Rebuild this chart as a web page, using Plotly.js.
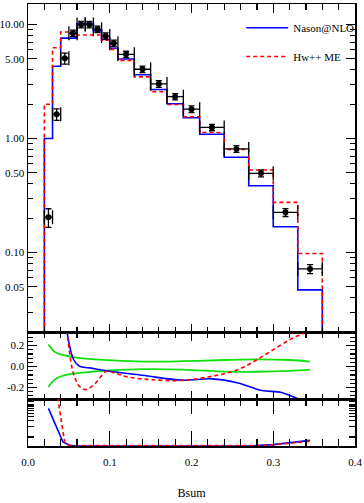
<!DOCTYPE html>
<html>
<head>
<meta charset="utf-8">
<script src="https://cdn.plot.ly/plotly-3.0.1.min.js"></script>
<style>
  html, body { margin: 0; padding: 0; background: #fff; }
  #chart { width: 364px; height: 503px; }
</style>
</head>
<body>
<div id="chart"></div>
<script>
// ---------------------------------------------------------------------------
// Bsum distribution: data vs Nason@NLO and Hw++ ME, plus two ratio strips.
// Data and both predictions share the same bins.
// ---------------------------------------------------------------------------

const binEdges = [0.02, 0.03, 0.04, 0.05, 0.06, 0.07, 0.08, 0.09, 0.10, 0.11,
  0.13, 0.15, 0.17, 0.19, 0.21, 0.24, 0.27, 0.30, 0.33, 0.36];

const dataValues = [0.204, 1.63, 5.05, 8.37, 10.0, 10.0, 9.08, 7.93, 6.84,
  5.48, 4.05, 3.01, 2.33, 1.81, 1.25, 0.81, 0.495, 0.225, 0.0717];
const dataErrors = [0.038, 0.19, 0.55, 0.55, 0.65, 0.65, 0.6, 0.5, 0.45,
  0.35, 0.27, 0.2, 0.15, 0.12, 0.08, 0.055, 0.035, 0.018, 0.0065];

const nasonValues = [1.0, 4.3, 7.6, 7.6, 10.2, 10.2, 8.8, 7.4, 6.2,
  4.98, 3.62, 2.69, 2.02, 1.52, 1.09, 0.684, 0.385, 0.168, 0.047];
const hwmeValues = [2.0, 6.25, 8.6, 8.6, 8.1, 8.1, 8.1, 7.3, 6.05,
  4.85, 3.47, 2.58, 1.99, 1.55, 1.13, 0.80, 0.53, 0.275, 0.098];

// upper ratio strip: (MC - data) / data and the data uncertainty band
const bandX = [0.025, 0.0325, 0.04, 0.053, 0.07, 0.10, 0.14, 0.19, 0.24, 0.28, 0.32, 0.345];
const bandUpper = [0.21, 0.14, 0.115, 0.093, 0.075, 0.06, 0.047, 0.051, 0.062, 0.068, 0.062, 0.046];
const bandLower = [-0.195, -0.125, -0.095, -0.07, -0.055, -0.038, -0.025, -0.029, -0.048, -0.05, -0.042, -0.03];

const nasonRatioX = [0.045, 0.0557, 0.063, 0.075, 0.10, 0.14, 0.188, 0.225, 0.257, 0.286, 0.31, 0.33, 0.345];
const nasonRatio = [0.47, 0.067, 0.003, -0.013, -0.045, -0.083, -0.13, -0.118, -0.157, -0.228, -0.247, -0.308, -0.36];

const hwmeRatioX = [0.045, 0.0535, 0.058, 0.063, 0.0705, 0.0816, 0.096, 0.105, 0.122, 0.15, 0.188,
  0.229, 0.257, 0.282, 0.307, 0.325, 0.339, 0.35];
const hwmeRatio = [0.55, 0.0, -0.12, -0.19, -0.22, -0.166, -0.045, -0.06, -0.1, -0.125, -0.133,
  -0.087, -0.029, 0.074, 0.195, 0.276, 0.324, 0.37];

// lower strip (no scale printed)
const nasonLowX = [0.025, 0.0427, 0.051, 0.06, 0.10, 0.20, 0.27, 0.30, 0.345];
const nasonLow = [0.80, 0.086, 0.015, 0.0, 0.0, 0.0, 0.0, 0.03, 0.12];
const hwmeLowX = [0.035, 0.0448, 0.048, 0.052, 0.07, 0.20, 0.29, 0.345];
const hwmeLow = [1.18, 0.086, 0.03, 0.012, 0.01, 0.005, 0.01, 0.10];

const lowStripTicks = [0.19, 0.41, 0.55, 0.62, 0.69, 0.75, 0.80, 0.85, 0.89, 0.94];

// ---------------------------------------------------------------------------

const FONT = 'Liberation Serif, DejaVu Serif, serif';
const BLUE = '#0000ff';
const RED = '#ff0000';
const GREEN = '#10e010';
const FLOOR = 1e-3; // below the log range, so the steps rise from the frame

// step outline: rise from the floor at the first edge, fall at the last
function stepTrace(values, name, line, legend) {
  return {
    x: [binEdges[0]].concat(binEdges),
    y: [FLOOR].concat(values, [FLOOR]),
    type: 'scatter',
    mode: 'lines',
    line: Object.assign({ shape: 'hv' }, line),
    name,
    legend,
    xaxis: 'x',
    yaxis: 'y',
  };
}

const centers = dataValues.map((_, i) => (binEdges[i] + binEdges[i + 1]) / 2);
const halfWidths = dataValues.map((_, i) => (binEdges[i + 1] - binEdges[i]) / 2);

const blueLine = { color: BLUE, width: 1.6 };
const redLine = { color: RED, width: 1.6, dash: '4px,3px' };

const traces = [
  stepTrace(nasonValues, 'Nason@NLO', blueLine, 'legend'),
  stepTrace(hwmeValues, 'Hw++ ME', redLine, 'legend2'),
  {
    x: centers,
    y: dataValues,
    type: 'scatter',
    mode: 'markers',
    marker: { color: '#000', size: 6, symbol: 'circle' },
    error_y: { type: 'data', array: dataErrors, color: '#000', thickness: 1.3, width: 3 },
    error_x: { type: 'data', array: halfWidths, color: '#000', thickness: 1.3, width: 7 },
    showlegend: false,
    xaxis: 'x',
    yaxis: 'y',
  },
  // upper ratio strip
  { x: bandX, y: bandUpper, mode: 'lines', line: { color: GREEN, width: 1.8, shape: 'spline' },
    showlegend: false, xaxis: 'x2', yaxis: 'y2' },
  { x: bandX, y: bandLower, mode: 'lines', line: { color: GREEN, width: 1.8, shape: 'spline' },
    showlegend: false, xaxis: 'x2', yaxis: 'y2' },
  { x: nasonRatioX, y: nasonRatio, mode: 'lines', line: Object.assign({ shape: 'spline' }, blueLine),
    showlegend: false, xaxis: 'x2', yaxis: 'y2' },
  { x: hwmeRatioX, y: hwmeRatio, mode: 'lines', line: Object.assign({ shape: 'spline' }, redLine),
    showlegend: false, xaxis: 'x2', yaxis: 'y2' },
  // lower strip
  { x: nasonLowX, y: nasonLow, mode: 'lines', line: blueLine,
    showlegend: false, xaxis: 'x3', yaxis: 'y3' },
  { x: hwmeLowX, y: hwmeLow, mode: 'lines', line: redLine,
    showlegend: false, xaxis: 'x3', yaxis: 'y3' },
];

const frame = {
  showline: true,
  linecolor: '#000',
  linewidth: 1.5,
  mirror: 'allticks',
  ticks: 'inside',
  tickcolor: '#000',
  tickwidth: 1.2,
  showgrid: false,
  zeroline: false,
  tickfont: { family: FONT, size: 11, color: '#000' },
};

function xFrame(anchor, majorLen, minorLen, labels) {
  return Object.assign({}, frame, {
    anchor,
    domain: [0, 1],
    range: [0, 0.4],
    tickmode: 'linear',
    tick0: 0,
    dtick: 0.1,
    tickformat: '.1f',
    ticklen: majorLen,
    showticklabels: labels,
    minor: { dtick: 0.02, tick0: 0, ticklen: minorLen, ticks: 'inside', tickcolor: '#000', tickwidth: 1.2 },
  });
}

const legendBase = {
  xanchor: 'left', yanchor: 'top',
  bgcolor: 'rgba(0,0,0,0)', itemwidth: 42,
  font: { family: FONT, size: 11, color: '#000' },
};

const layout = {
  width: 364,
  height: 503,
  margin: { l: 28, r: 9, t: 4, b: 57 },
  paper_bgcolor: '#fff',
  plot_bgcolor: '#fff',
  showlegend: true,
  legend: Object.assign({ x: 0.652, y: 0.979 }, legendBase),
  legend2: Object.assign({ x: 0.652, y: 0.914 }, legendBase),
  xaxis: xFrame('y', 9, 6, false),
  xaxis2: xFrame('y2', 8, 5, false),
  xaxis3: Object.assign(xFrame('y3', 15, 7, true), {
    ticklabelstandoff: 5,
    title: { text: 'Bsum', font: { family: FONT, size: 12, color: '#000' }, standoff: 22 },
  }),
  yaxis: Object.assign({}, frame, {
    type: 'log',
    domain: [0.2557, 1],
    anchor: 'x',
    range: [-1.706, 1.18],
    tickmode: 'array',
    tickvals: [0.05, 0.1, 0.5, 1, 5, 10],
    ticktext: ['0.05', '0.10', '0.50', '1.00', '5.00', '10.00'],
    ticklen: 9,
    minor: {
      tickmode: 'array',
      tickvals: [0.02, 0.03, 0.04, 0.06, 0.07, 0.08, 0.09, 0.2, 0.3, 0.4, 0.6, 0.7, 0.8, 0.9,
        2, 3, 4, 6, 7, 8, 9],
      ticklen: 5, ticks: 'inside', tickcolor: '#000', tickwidth: 1.2,
    },
  }),
  yaxis2: Object.assign({}, frame, {
    domain: [0.1063, 0.2557],
    anchor: 'x2',
    range: [-0.31, 0.32],
    tickmode: 'array',
    tickvals: [-0.2, 0, 0.2],
    ticktext: ['-0.2', '0.0', '0.2'],
    ticklen: 9,
    minor: { dtick: 0.04, tick0: 0, ticklen: 5, ticks: 'inside', tickcolor: '#000', tickwidth: 1.2 },
  }),
  yaxis3: Object.assign({}, frame, {
    domain: [0, 0.1063],
    anchor: 'x3',
    range: [0, 1],
    tickmode: 'array',
    tickvals: lowStripTicks,
    showticklabels: false,
    ticklen: 6,
  }),
};

Plotly.newPlot('chart', traces, layout, { staticPlot: true, displayModeBar: false });
</script>
</body>
</html>
